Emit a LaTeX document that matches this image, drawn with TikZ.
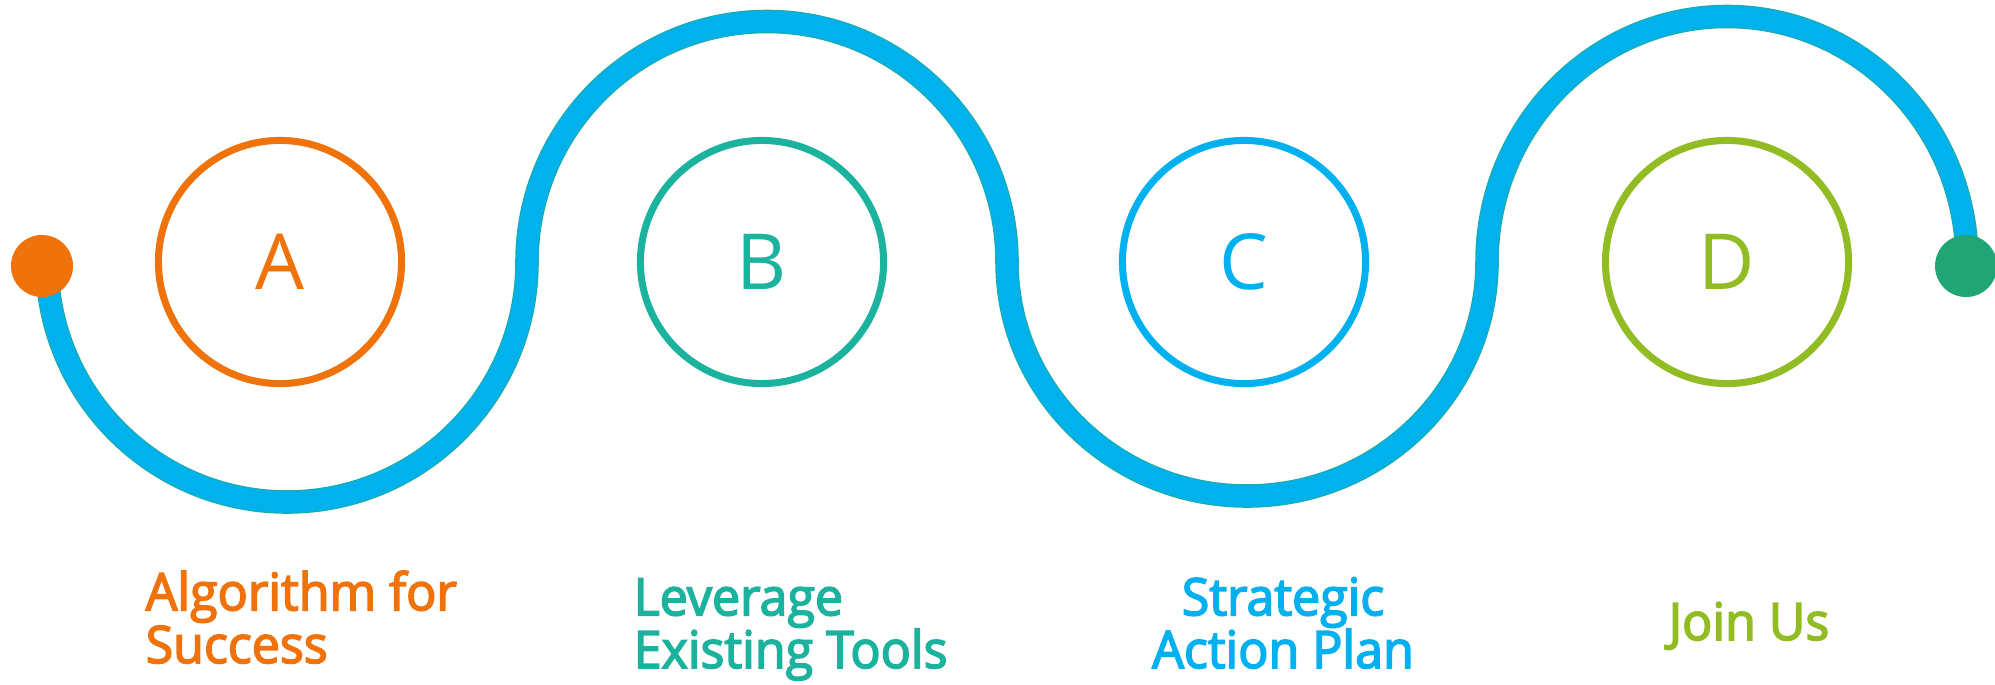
\documentclass[tikz,border=0pt]{standalone}
\usepackage{fontspec}
\setmainfont{Open Sans}
\newfontfamily\labelfont[FakeBold=3,FakeStretch=0.97]{Open Sans}
\usepackage{tikz}
\usetikzlibrary{positioning}
\definecolor{stepA}{RGB}{239,115,10}
\definecolor{stepB}{RGB}{27,179,158}
\definecolor{stepC}{RGB}{0,176,239}
\definecolor{stepD}{RGB}{146,188,36}
\definecolor{dotgreen}{RGB}{33,165,116}
\definecolor{waveblue}{RGB}{0,177,235}
\definecolor{waveedge}{RGB}{30,172,160}
\tikzset{
    wave/.style={draw=waveedge,line width=0.3pt,double=waveblue,double distance=6.1pt},
    stepring/.style={circle,draw=#1,text=#1,line width=2pt,minimum size=2.43cm,inner sep=0pt,font=\fontsize{22}{26}\selectfont},
    steplabel/.style={text=#1,inner sep=0pt,font=\labelfont\fontsize{14.7}{15}\selectfont},
    enddot/.style={circle,fill=#1,minimum size=0.62cm,inner sep=0pt},
}

\begin{document}
\begin{tikzpicture}[x=0.01cm,y=0.01cm]
    \useasboundingbox (0,0) rectangle (1995,684);
    \draw[wave] (47,422) arc[start angle=180,end angle=360,x radius=240,y radius=240]
        arc[start angle=180,end angle=0,x radius=240,y radius=240.5]
        arc[start angle=180,end angle=360,x radius=240,y radius=234]
        arc[start angle=180,end angle=0,x radius=240,y radius=245.5];
    \node[enddot=stepA] (startdot) at (42,418) {};
    \node[enddot=dotgreen] (finishdot) at (1966,418) {};

    \node[stepring=stepA] (circA) at (280,422) {A};
    \node[stepring=stepB] (circB) at (762,422) {B};
    \node[stepring=stepC] (circC) at (1244,422) {C};
    \node[stepring=stepD] (circD) at (1727,422) {D};

    \node[steplabel=stepA,align=left,anchor=base west] (labA) at (145,21) {Algorithm for\\Success};
    \node[steplabel=stepB,align=left,anchor=base west] (labB) at (633,16) {Leverage\\Existing Tools};
    \node[steplabel=stepC,align=center,anchor=base] (labC) at (1283,16) {Strategic\\Action Plan};
    \node[steplabel=stepD,anchor=base] (labD) at (1749,44) {Join Us};
\end{tikzpicture}
\end{document}
